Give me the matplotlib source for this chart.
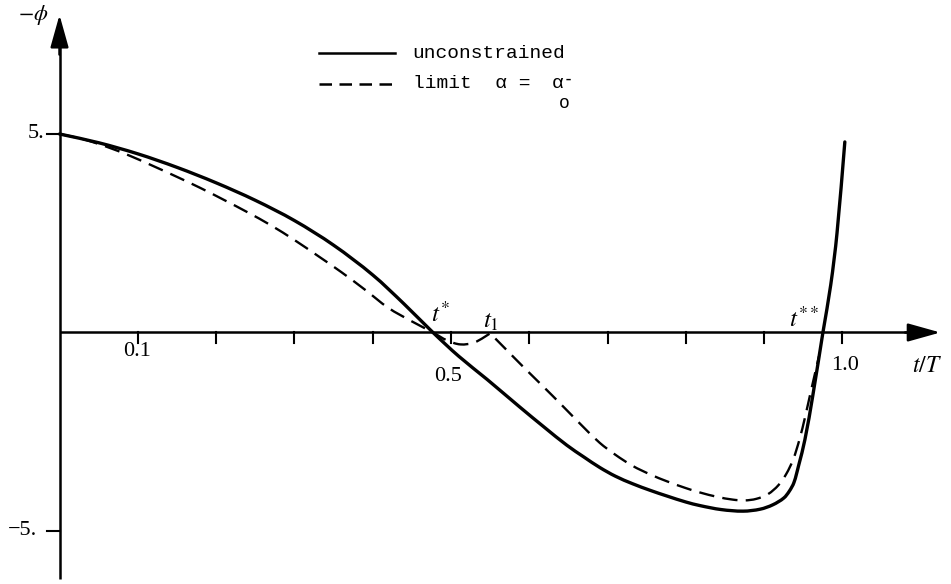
"""
Switching function -phi(t/T) for the unconstrained arc and the limit arc.
"""

import numpy as np
import matplotlib.pyplot as plt
from matplotlib.path import Path
from matplotlib.patches import PathPatch

plt.rcParams['mathtext.fontset'] = 'stix'

# unconstrained solution
solid_t = [0.0, 0.05, 0.10, 0.15, 0.20, 0.25, 0.30, 0.35, 0.40, 0.44,
           0.477, 0.51, 0.546, 0.588, 0.62, 0.648, 0.67, 0.69, 0.71, 0.732,
           0.755, 0.776, 0.80, 0.818, 0.845, 0.873, 0.895, 0.911, 0.925,
           0.932, 0.938, 0.944, 0.952, 0.962, 0.975, 0.985, 0.993, 1.003]
solid_phi = [5.0, 4.78, 4.50, 4.16, 3.77, 3.33, 2.82, 2.20, 1.45, 0.72,
             0.0, -0.6, -1.18, -1.88, -2.4, -2.84, -3.14, -3.40, -3.62, -3.81,
             -3.98, -4.12, -4.27, -4.36, -4.46, -4.50, -4.45, -4.34, -4.17,
             -4.0, -3.78, -3.35, -2.7, -1.6, 0.0, 1.2, 2.5, 4.8]

# limit alpha = alpha_0^-
dash_t = [0.0, 0.03, 0.06, 0.09, 0.12, 0.15, 0.18, 0.21, 0.24, 0.27,
          0.30, 0.33, 0.36, 0.39, 0.42, 0.45, 0.477, 0.495, 0.512, 0.53,
          0.55, 0.57, 0.59, 0.61, 0.63, 0.65, 0.67, 0.69, 0.71, 0.732,
          0.755, 0.776, 0.80, 0.818, 0.84, 0.86, 0.875, 0.89, 0.905, 0.918,
          0.928, 0.937, 0.945, 0.952, 0.96, 0.97]
dash_phi = [5.0, 4.87, 4.68, 4.45, 4.19, 3.92, 3.64, 3.34, 3.03, 2.70,
            2.33, 1.93, 1.52, 1.08, 0.62, 0.28, 0.0, -0.2, -0.3, -0.25,
            -0.02, -0.42, -0.82, -1.21, -1.60, -2.0, -2.4, -2.78, -3.08, -3.36,
            -3.58, -3.75, -3.92, -4.03, -4.14, -4.21, -4.23, -4.19, -4.07, -3.85,
            -3.57, -3.2, -2.7, -2.15, -1.45, -0.6]
dash_corner = 0.55  # t1, where the limit arc touches the axis

x_ticks = [0.1, 0.2, 0.3, 0.4, 0.5, 0.6, 0.7, 0.8, 0.9, 1.0]
x_tick_labels = ['0.1', '0.5', '1.0']
x_label_pos = [(0.099, -0.49), (0.496, -1.12), (1.003, -0.82)]
y_ticks = [5, -5]
y_tick_labels = ['5.', '\u22125.']
y_label_x = [-0.019, -0.028]


def smooth_path(xs, ys, ax, corners=()):
    """Cubic Bezier path through every point (chord-length Catmull-Rom)."""
    pts = np.column_stack([xs, ys]).astype(float)
    pix = ax.transData.transform(pts)
    seg = np.hypot(*np.diff(pix, axis=0).T)
    s = np.concatenate([[0], np.cumsum(seg)])
    n = len(pts)
    tang = np.zeros_like(pts)
    for i in range(n):
        if xs[i] in corners:
            continue
        lo, hi = max(i - 1, 0), min(i + 1, n - 1)
        tang[i] = (pts[hi] - pts[lo]) / (s[hi] - s[lo])
    verts = [pts[0]]
    codes = [Path.MOVETO]
    for i in range(n - 1):
        d = s[i + 1] - s[i]
        verts += [pts[i] + tang[i] * d / 3,
                  pts[i + 1] - tang[i + 1] * d / 3,
                  pts[i + 1]]
        codes += [Path.CURVE4] * 3
    return Path(verts, codes)


fig = plt.figure(figsize=(9.51, 5.84), dpi=100)
ax = fig.add_axes([0, 0, 1, 1])
ax.set_xlim(-0.076, 1.1386)
ax.set_ylim(-6.335, 8.375)
ax.axis('off')

serif = 'Liberation Serif'
mono = 'Liberation Mono'
axis_kw = dict(color='black', lw=1.8, solid_capstyle='butt')
arrow_kw = dict(arrowstyle='-|>,head_length=1.0,head_width=0.28',
                color='black', lw=1.8, mutation_scale=20,
                shrinkA=0, shrinkB=0)

# axes with arrow heads
ax.plot([0, 0], [-6.2, 7.4], **axis_kw)
ax.annotate('', xy=(0, 8.0), xytext=(0, 7.0), arrowprops=arrow_kw)
ax.plot([0, 1.10], [0, 0], **axis_kw)
ax.annotate('', xy=(1.125, 0), xytext=(1.08, 0), arrowprops=arrow_kw)

# tick marks
for xt in x_ticks:
    ax.plot([xt, xt], [0, -0.27], color='black', lw=1.5)
for yt in y_ticks:
    ax.plot([-0.016, 0], [yt, yt], color='black', lw=1.5)

for lab, (xl, yl) in zip(x_tick_labels, x_label_pos):
    ax.text(xl, yl, lab, family=serif, fontsize=16, ha='center', va='center')
for lab, yt, xl in zip(y_tick_labels, y_ticks, y_label_x):
    ax.text(xl, yt, lab, family=serif, fontsize=16, ha='right', va='center')

ax.text(-0.034, 8.0, r'$-\phi$', fontsize=16, ha='center', va='center')
ax.text(1.089, -0.82, r'$t/T$', fontsize=17, ha='left', va='center')

# curves
ax.add_patch(PathPatch(smooth_path(solid_t, solid_phi, ax), fill=False,
                       edgecolor='black', lw=2.4, capstyle='round',
                       joinstyle='round'))
ax.add_patch(PathPatch(smooth_path(dash_t, dash_phi, ax, corners=(dash_corner,)),
                       fill=False, edgecolor='black', lw=1.7,
                       linestyle=(0, (6.5, 3.5))))

# event labels
ax.text(0.487, 0.45, r'$t^{*}$', fontsize=18, ha='center', va='center')
ax.text(0.551, 0.28, r'$t_{1}$', fontsize=18, ha='center', va='center')
ax.text(0.951, 0.33, r'$t^{**}$', fontsize=18, ha='center', va='center')

# legend
ax.plot([0.331, 0.429], [7.04, 7.04], color='black', lw=1.8)
ax.plot([0.331, 0.429], [6.26, 6.26], color='black', lw=1.8,
        dashes=(5.0, 3.0))
ax.text(0.451, 7.04, 'unconstrained', family=mono, fontsize=14,
        ha='left', va='center')
ax.text(0.451, 6.26, 'limit  \u03b1 = ', family=mono, fontsize=14,
        ha='left', va='center')
ax.text(0.636, 6.26, '\u03b1', family=mono, fontsize=14,
        ha='center', va='center')
ax.text(0.650, 6.40, '-', family=mono, fontsize=11,
        ha='center', va='center', fontweight='bold')
ax.text(0.645, 5.78, 'o', family=mono, fontsize=13,
        ha='center', va='center')

fig.savefig('out.png', dpi=100)
plt.close(fig)
